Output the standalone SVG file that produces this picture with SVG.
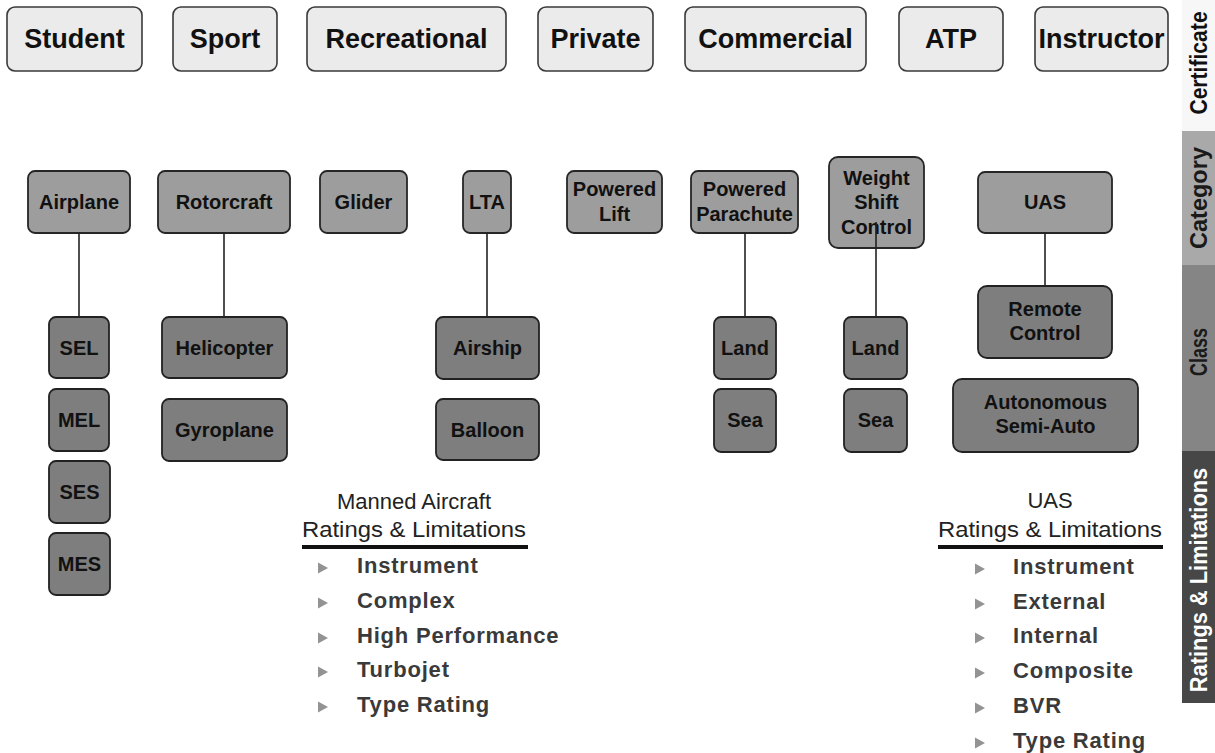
<svg xmlns="http://www.w3.org/2000/svg" width="1215" height="753" viewBox="0 0 1215 753">
<defs>
<style>
.cert rect{fill:#ebebeb;stroke:#3a3a3a;stroke-width:1.6}
.cert text{font-family:"Liberation Sans",Arial,sans-serif;font-weight:bold;font-size:27px;fill:#111;text-anchor:middle}
.cat rect{fill:#9d9d9d;stroke:#262626;stroke-width:1.8}
.cls rect{fill:#7e7e7e;stroke:#222;stroke-width:1.8}
.cat text,.cls text{font-family:"Liberation Sans",Arial,sans-serif;font-weight:bold;font-size:20px;fill:#111;text-anchor:middle}
.conn line{stroke:#222;stroke-width:1.6}
.hdr{font-family:"Liberation Sans",Arial,sans-serif;font-size:22px;fill:#222;text-anchor:middle}
.item{font-family:"Liberation Sans",Arial,sans-serif;font-weight:bold;font-size:22px;fill:#3a3a3a;letter-spacing:0.8px}
.arr{fill:#939393}
.strip text{font-family:"Liberation Sans",Arial,sans-serif;font-weight:bold;font-size:24px;text-anchor:middle}
</style>
<polygon id="tri" points="0,-5.5 10,0 0,5.5"/>
</defs>
<rect x="0" y="0" width="1215" height="753" fill="#ffffff"/>

<g id="strip" class="strip">
<rect x="1182" y="0" width="33" height="131" fill="#f7f7f7"/>
<rect x="1182" y="131" width="33" height="134" fill="#a9a9a9"/>
<rect x="1182" y="265" width="33" height="186" fill="#858585"/>
<rect x="1182" y="451" width="33" height="252" fill="#474747"/>
<text transform="translate(1207,63) rotate(-90) scale(0.88,1)" fill="#111">Certificate</text>
<text transform="translate(1207,198) rotate(-90) scale(0.98,1)" fill="#1a1a1a">Category</text>
<text transform="translate(1207,352) rotate(-90) scale(0.75,1)" fill="#1a1a1a">Class</text>
<text transform="translate(1207,580) rotate(-90) scale(0.91,1)" fill="#ffffff">Ratings &amp; Limitations</text>
</g>

<g id="n-student" class="cert"><rect x="7" y="7" width="135" height="64" rx="8"/><text x="74.5" y="48">Student</text></g>
<g id="n-sport" class="cert"><rect x="173" y="7" width="104" height="64" rx="8"/><text x="225" y="48">Sport</text></g>
<g id="n-recreational" class="cert"><rect x="307" y="7" width="199" height="64" rx="8"/><text x="406.5" y="48">Recreational</text></g>
<g id="n-private" class="cert"><rect x="538" y="7" width="115" height="64" rx="8"/><text x="595.5" y="48">Private</text></g>
<g id="n-commercial" class="cert"><rect x="685" y="7" width="181" height="64" rx="8"/><text x="775.5" y="48">Commercial</text></g>
<g id="n-atp" class="cert"><rect x="899" y="7" width="104" height="64" rx="8"/><text x="951" y="48">ATP</text></g>
<g id="n-instructor" class="cert"><rect x="1035" y="7" width="133" height="64" rx="8"/><text x="1101.5" y="48">Instructor</text></g>

<g id="n-airplane" class="cat"><rect x="28" y="171" width="102" height="62" rx="7"/><text x="79" y="209">Airplane</text></g>
<g id="n-rotorcraft" class="cat"><rect x="158" y="171" width="132" height="62" rx="7"/><text x="224" y="209">Rotorcraft</text></g>
<g id="n-glider" class="cat"><rect x="320" y="171" width="87" height="62" rx="7"/><text x="363.5" y="209">Glider</text></g>
<g id="n-lta" class="cat"><rect x="463" y="171" width="48" height="62" rx="7"/><text x="487" y="209">LTA</text></g>
<g id="n-poweredlift" class="cat"><rect x="567" y="171" width="95" height="62" rx="7"/><text x="614.5" y="196">Powered</text><text x="614.5" y="221">Lift</text></g>
<g id="n-poweredparachute" class="cat"><rect x="691" y="171" width="107" height="62" rx="7"/><text x="744.5" y="196">Powered</text><text x="744.5" y="221">Parachute</text></g>
<g id="n-weightshift" class="cat"><rect x="829" y="157" width="95" height="91" rx="9"/><text x="876.5" y="185">Weight</text><text x="876.5" y="209">Shift</text><text x="876.5" y="234">Control</text></g>
<g id="n-uas" class="cat"><rect x="978" y="172" width="134" height="61" rx="7"/><text x="1045" y="209">UAS</text></g>

<g id="n-sel" class="cls"><rect x="49" y="317" width="60" height="61" rx="7"/><text x="79" y="355">SEL</text></g>
<g id="n-mel" class="cls"><rect x="49" y="389" width="60" height="62" rx="7"/><text x="79" y="427">MEL</text></g>
<g id="n-ses" class="cls"><rect x="49" y="461" width="61" height="62" rx="7"/><text x="79.5" y="499">SES</text></g>
<g id="n-mes" class="cls"><rect x="49" y="533" width="61" height="62" rx="7"/><text x="79.5" y="571">MES</text></g>
<g id="n-helicopter" class="cls"><rect x="162" y="317" width="125" height="61" rx="7"/><text x="224.5" y="355">Helicopter</text></g>
<g id="n-gyroplane" class="cls"><rect x="162" y="399" width="125" height="62" rx="7"/><text x="224.5" y="437">Gyroplane</text></g>
<g id="n-airship" class="cls"><rect x="436" y="317" width="103" height="62" rx="7"/><text x="487.5" y="355">Airship</text></g>
<g id="n-balloon" class="cls"><rect x="436" y="399" width="103" height="61" rx="7"/><text x="487.5" y="437">Balloon</text></g>
<g id="n-land1" class="cls"><rect x="714" y="317" width="62" height="62" rx="7"/><text x="745" y="355">Land</text></g>
<g id="n-sea1" class="cls"><rect x="714" y="389" width="62" height="63" rx="7"/><text x="745" y="427">Sea</text></g>
<g id="n-land2" class="cls"><rect x="844" y="317" width="63" height="62" rx="7"/><text x="875.5" y="355">Land</text></g>
<g id="n-sea2" class="cls"><rect x="844" y="389" width="63" height="63" rx="7"/><text x="875.5" y="427">Sea</text></g>
<g id="n-remote" class="cls"><rect x="978" y="286" width="134" height="72" rx="9"/><text x="1045" y="316">Remote</text><text x="1045" y="340">Control</text></g>
<g id="n-autonomous" class="cls"><rect x="953" y="379" width="185" height="73" rx="9"/><text x="1045.5" y="409">Autonomous</text><text x="1045.5" y="433">Semi-Auto</text></g>

<g id="connectors" class="conn">
<line x1="79" y1="233" x2="79" y2="317"/>
<line x1="224" y1="233" x2="224" y2="317"/>
<line x1="487" y1="233" x2="487" y2="317"/>
<line x1="745" y1="233" x2="745" y2="317"/>
<line x1="876" y1="222" x2="876" y2="317"/>
<line x1="1045" y1="233" x2="1045" y2="286"/>
</g>

<g id="manned-list">
<text class="hdr" x="414" y="509">Manned Aircraft</text>
<text class="hdr" x="414" y="537" textLength="224" lengthAdjust="spacingAndGlyphs">Ratings &amp; Limitations</text>
<rect x="302" y="545" width="226" height="4" fill="#111"/>
<use href="#tri" class="arr" x="318" y="568"/>
<use href="#tri" class="arr" x="318" y="603"/>
<use href="#tri" class="arr" x="318" y="638"/>
<use href="#tri" class="arr" x="318" y="672"/>
<use href="#tri" class="arr" x="318" y="707"/>
<text class="item" x="357" y="573">Instrument</text>
<text class="item" x="357" y="608">Complex</text>
<text class="item" x="357" y="643">High Performance</text>
<text class="item" x="357" y="677">Turbojet</text>
<text class="item" x="357" y="712">Type Rating</text>
</g>

<g id="uas-list">
<text class="hdr" x="1050" y="508">UAS</text>
<text class="hdr" x="1050" y="537" textLength="224" lengthAdjust="spacingAndGlyphs">Ratings &amp; Limitations</text>
<rect x="938" y="545" width="225" height="4" fill="#111"/>
<use href="#tri" class="arr" x="975" y="569"/>
<use href="#tri" class="arr" x="975" y="604"/>
<use href="#tri" class="arr" x="975" y="638"/>
<use href="#tri" class="arr" x="975" y="673"/>
<use href="#tri" class="arr" x="975" y="708"/>
<use href="#tri" class="arr" x="975" y="743"/>
<text class="item" x="1013" y="574">Instrument</text>
<text class="item" x="1013" y="609">External</text>
<text class="item" x="1013" y="643">Internal</text>
<text class="item" x="1013" y="678">Composite</text>
<text class="item" x="1013" y="713">BVR</text>
<text class="item" x="1013" y="748">Type Rating</text>
</g>
</svg>
